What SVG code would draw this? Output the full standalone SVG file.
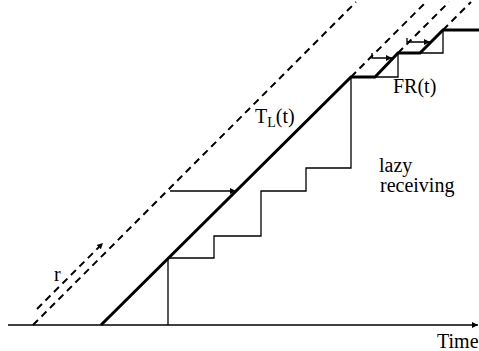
<svg xmlns="http://www.w3.org/2000/svg" width="479" height="351" viewBox="0 0 479 351">
<style>
.thick{fill:none;stroke:#000;stroke-width:3;stroke-linejoin:miter}
.thin{fill:none;stroke:#000;stroke-width:1.3}
.dash{fill:none;stroke:#000;stroke-width:2;stroke-dasharray:7 5}
.lbl{font-family:"Liberation Serif","Times New Roman",serif;fill:#000;font-size:20px}
</style>
<defs>
<marker id="ah" viewBox="0 0 10 10" refX="10" refY="5" markerWidth="8" markerHeight="6" markerUnits="userSpaceOnUse" orient="auto"><path d="M0,0 L10,5 L0,10 Z" fill="#000"/></marker>
</defs>
<g id="axis">
<line class="thin" x1="8" y1="325" x2="478" y2="325" marker-end="url(#ah)"/>
</g>
<g id="dashed-lines">
<line class="dash" x1="33" y1="325" x2="356" y2="2"/>
<line class="dash" x1="351" y1="77" x2="426" y2="2"/>
<line class="dash" x1="398" y1="53" x2="449" y2="2"/>
<line class="dash" x1="443" y1="30" x2="471" y2="2"/>
</g>
<g id="TL">
<polyline class="thick" points="101,325 351,77 375,77 398,53 420,53 443,30 479,30"/>
</g>
<g id="lazy-staircase">
<polyline class="thin" points="168,325 168,258 214,258 214,236 261,236 261,191 306,191 306,168 351,168 351,77"/>
</g>
<g id="FR">
<polyline class="thin" points="375,77 398,77 398,53"/>
<polyline class="thin" points="420,53 443,53 443,30"/>
</g>
<g id="connectors">
<line class="dash" x1="37" y1="309" x2="103" y2="243" marker-end="url(#ah)"/>
<line class="thin" x1="170" y1="191" x2="236" y2="191" marker-end="url(#ah)"/>
<polyline class="thin" points="372,53 372,58 392,58" marker-end="url(#ah)"/>
<polyline class="thin" points="407,38 407,42 430,42" marker-end="url(#ah)"/>
</g>
<g id="labels">
<text class="lbl" x="54" y="281">r</text>
<text class="lbl" x="255" y="123">T<tspan font-size="14" dy="4">L</tspan><tspan dy="-4">(t)</tspan></text>
<text class="lbl" x="393" y="93">FR(t)</text>
<text class="lbl" x="379" y="172">lazy</text>
<text class="lbl" x="380" y="192">receiving</text>
<text class="lbl" x="437" y="348">Time</text>
</g>
</svg>
